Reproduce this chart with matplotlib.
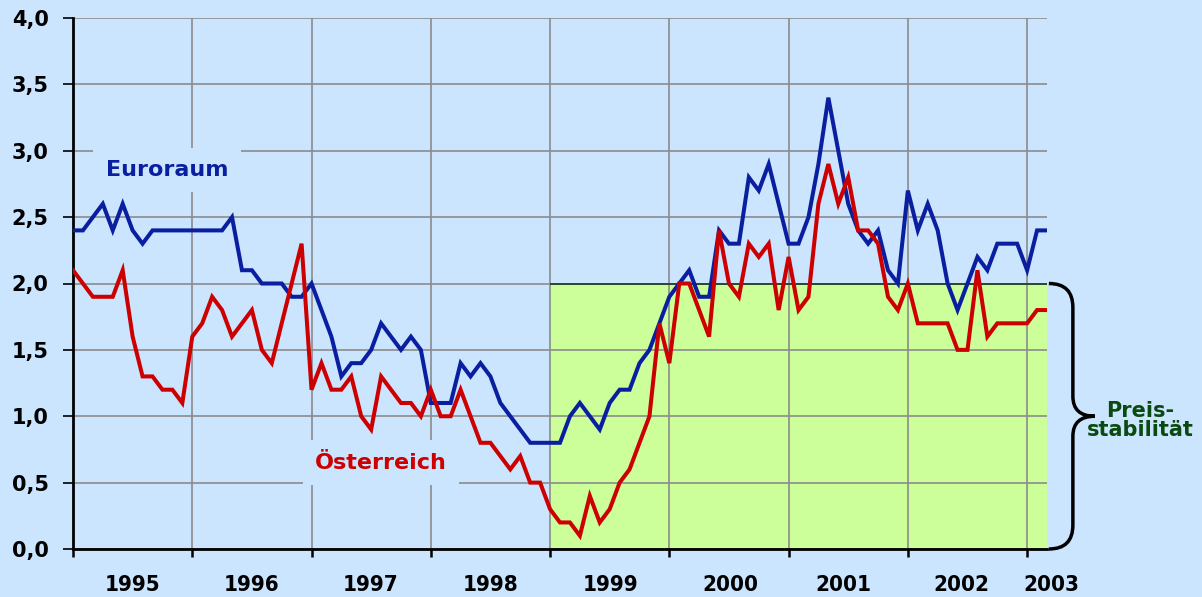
'''
Inflation Euroraum vs. Österreich, 1995-2003, mit Band der Preisstabilität
'''

import numpy as np
import matplotlib.pyplot as plt
from matplotlib.path import Path
from matplotlib.patches import PathPatch, Rectangle

# monthly values Jan 1995 - Mar 2003
euroraum = [
    2.4, 2.4, 2.5, 2.6, 2.4, 2.6, 2.4, 2.3, 2.4, 2.4, 2.4, 2.4,  # 1995
    2.4, 2.4, 2.4, 2.4, 2.5, 2.1, 2.1, 2.0, 2.0, 2.0, 1.9, 1.9,  # 1996
    2.0, 1.8, 1.6, 1.3, 1.4, 1.4, 1.5, 1.7, 1.6, 1.5, 1.6, 1.5,  # 1997
    1.1, 1.1, 1.1, 1.4, 1.3, 1.4, 1.3, 1.1, 1.0, 0.9, 0.8, 0.8,  # 1998
    0.8, 0.8, 1.0, 1.1, 1.0, 0.9, 1.1, 1.2, 1.2, 1.4, 1.5, 1.7,  # 1999
    1.9, 2.0, 2.1, 1.9, 1.9, 2.4, 2.3, 2.3, 2.8, 2.7, 2.9, 2.6,  # 2000
    2.3, 2.3, 2.5, 2.9, 3.4, 3.0, 2.6, 2.4, 2.3, 2.4, 2.1, 2.0,  # 2001
    2.7, 2.4, 2.6, 2.4, 2.0, 1.8, 2.0, 2.2, 2.1, 2.3, 2.3, 2.3,  # 2002
    2.1, 2.4, 2.4,                                               # 2003
]
oesterreich = [
    2.1, 2.0, 1.9, 1.9, 1.9, 2.1, 1.6, 1.3, 1.3, 1.2, 1.2, 1.1,
    1.6, 1.7, 1.9, 1.8, 1.6, 1.7, 1.8, 1.5, 1.4, 1.7, 2.0, 2.3,
    1.2, 1.4, 1.2, 1.2, 1.3, 1.0, 0.9, 1.3, 1.2, 1.1, 1.1, 1.0,
    1.2, 1.0, 1.0, 1.2, 1.0, 0.8, 0.8, 0.7, 0.6, 0.7, 0.5, 0.5,
    0.3, 0.2, 0.2, 0.1, 0.4, 0.2, 0.3, 0.5, 0.6, 0.8, 1.0, 1.7,
    1.4, 2.0, 2.0, 1.8, 1.6, 2.4, 2.0, 1.9, 2.3, 2.2, 2.3, 1.8,
    2.2, 1.8, 1.9, 2.6, 2.9, 2.6, 2.8, 2.4, 2.4, 2.3, 1.9, 1.8,
    2.0, 1.7, 1.7, 1.7, 1.7, 1.5, 1.5, 2.1, 1.6, 1.7, 1.7, 1.7,
    1.7, 1.8, 1.8,
]
years = ['1995', '1996', '1997', '1998', '1999', '2000', '2001', '2002', '2003']
stabilitaet_ab = 48      # Jan 1999 (month index)
stabilitaet_max = 2.0

bg = '#cce5ff'
blau = '#0a1fa0'
rot = '#cc0000'
gruen = '#ccff99'

x = np.arange(len(euroraum))
n_last = len(euroraum) - 1


def px2m(px):
    # pixel column -> month index (axis runs from px 73 to 1047)
    return (px - 73) / 9.94


# label centres as placed in the original slide
year_pos = [px2m(p) for p in [133, 252, 371, 491, 611, 730, 843, 961, 1051]]

fig = plt.figure(figsize=(12.02, 5.97), dpi=100, facecolor=bg)
ax = fig.add_axes([73 / 1202, 48 / 597, (1047 - 73) / 1202, (549 - 18) / 597])
ax.set_facecolor(bg)

# green band
ax.add_patch(Rectangle((stabilitaet_ab, 0), n_last - stabilitaet_ab, stabilitaet_max,
                       facecolor=gruen, edgecolor='none', zorder=0.2))
ax.hlines(stabilitaet_max, stabilitaet_ab, n_last, color='#1a3a1a', lw=1.2, zorder=1)

ax.plot(x, euroraum, color=blau, lw=2.9, zorder=3, solid_joinstyle='miter')
ax.plot(x, oesterreich, color=rot, lw=2.9, zorder=3, solid_joinstyle='miter')

ax.set_xlim(0, n_last)
ax.set_ylim(0, 4)
ax.set_axisbelow(True)

yt = np.arange(0, 4.01, 0.5)
ax.set_yticks(yt)
ax.set_yticklabels([f'{v:.1f}'.replace('.', ',') for v in yt],
                   fontsize=15, fontweight='bold')
ax.set_xticks(np.arange(0, n_last, 12))
ax.set_xticklabels([])
ax.tick_params(axis='y', length=7.5, width=1.2, pad=10)
ax.tick_params(axis='x', length=6, width=1.8)
ax.grid(True, color='#8c8c8c', lw=1.2)

for s in ['top', 'right']:
    ax.spines[s].set_visible(False)
for s in ['left', 'bottom']:
    ax.spines[s].set_linewidth(2)

for pos, y in zip(year_pos, years):
    ax.text(pos, -0.27, y, ha='center', va='center', fontsize=16,
            fontweight='bold', fontstretch='condensed', clip_on=False)

ax.text(px2m(167), 2.855, 'Euroraum', color=blau, fontsize=16, fontweight='bold',
        ha='center', va='center', zorder=2.5,
        bbox=dict(facecolor=bg, edgecolor='none', pad=9))
ax.text(px2m(381), 0.65, 'Österreich', color=rot, fontsize=16, fontweight='bold',
        ha='center', va='center', zorder=2.5,
        bbox=dict(facecolor=bg, edgecolor='none', pad=9))

# brace
verts = [
    (px2m(1049), 2.0), (px2m(1073), 2.0), (px2m(1073), 1.82),
    (px2m(1073), 1.15),
    (px2m(1073), 1.0), (px2m(1095), 1.0),
    (px2m(1073), 1.0), (px2m(1073), 0.85),
    (px2m(1073), 0.18),
    (px2m(1073), 0.0), (px2m(1049), 0.0),
]
codes = [Path.MOVETO, Path.CURVE3, Path.CURVE3, Path.LINETO,
         Path.CURVE3, Path.CURVE3, Path.CURVE3, Path.CURVE3,
         Path.LINETO, Path.CURVE3, Path.CURVE3]
ax.add_patch(PathPatch(Path(verts, codes), facecolor='none', edgecolor='black',
                       lw=2.5, clip_on=False))
ax.text(px2m(1140), 0.97, 'Preis-\nstabilität', color='#0a4a10', fontsize=15,
        fontweight='bold', ha='center', va='center', linespacing=0.95,
        clip_on=False)

plt.savefig('out.png', dpi=100, facecolor=bg)
